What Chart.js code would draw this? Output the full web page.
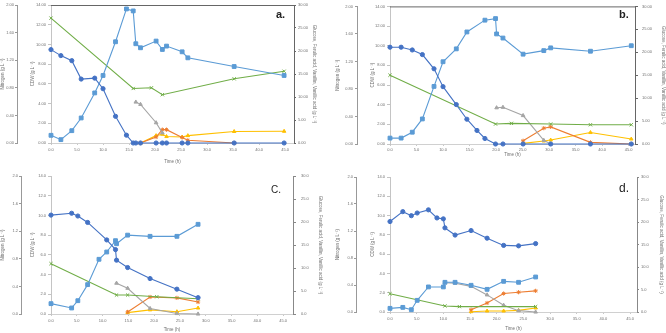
<!DOCTYPE html>
<html>
<head>
<meta charset="utf-8">
<script src="https://cdn.jsdelivr.net/npm/chart.js@4.4.1/dist/chart.umd.min.js"></script>
<style>
  body { margin: 0; background: #fff; }
  #wrap { position: relative; width: 666px; height: 333px; overflow: hidden; }
  canvas { position: absolute; }
  .tag { position: absolute; font-family: "Liberation Sans", Arial, sans-serif; color: #222; line-height: 11px; }
</style>
</head>
<body>
<div id="wrap">
  <canvas id="chartA" width="333" height="166" style="left:0;top:0"></canvas>
  <canvas id="chartB" width="333" height="166" style="left:333px;top:0"></canvas>
  <canvas id="chartC" width="333" height="167" style="left:0;top:166px"></canvas>
  <canvas id="chartD" width="333" height="167" style="left:333px;top:166px"></canvas>
  <div class="tag" style="left:276px;top:9px;font-size:11px;font-weight:bold">a.</div>
  <div class="tag" style="left:619px;top:9px;font-size:11px;font-weight:bold">b.</div>
  <div class="tag" style="left:271px;top:184px;font-size:10px">C.</div>
  <div class="tag" style="left:619px;top:183px;font-size:12px">d.</div>
</div>
<script>
// panel a
let aTimeCdw = [0, 1.9, 4.0, 5.8, 8.4, 10.0, 12.4, 14.5, 15.8, 16.3, 17.2, 20.2, 21.4, 22.2, 25.2, 26.3, 35.2, 44.8];
let aCdw = [0.78, 0.34, 1.25, 2.54, 5.08, 6.85, 10.27, 13.6, 13.4, 10.07, 9.66, 10.34, 9.49, 9.83, 9.25, 8.64, 7.76, 6.85];
let aTimeGlc = [0, 1.9, 4.0, 5.8, 8.4, 10.0, 12.4, 14.5, 15.8, 16.3, 17.2, 20.2, 21.4, 22.2, 25.2, 26.3, 35.2, 44.8];
let aGlc = [20.3, 19.0, 17.9, 13.9, 14.1, 11.8, 5.8, 1.7, 0, 0, 0, 0, 0, 0, 0, 0, 0, 0];
let aTimeN = [0, 15.8, 19.3, 21.4, 35.2, 44.8];
let aN = [1.81, 0.79, 0.80, 0.70, 0.93, 1.04];
let aTimeFer = [16.3, 17.2, 20.2, 21.4];
let aFer = [8.9, 8.4, 4.4, 2.2];
let aTimeVan = [17.2, 20.2, 21.4, 22.2, 25.2, 26.3, 35.2];
let aVan = [0, 1.3, 2.9, 2.9, 1.2, 0.6, 0];
let aTimeVa = [17.2, 20.2, 21.4, 22.2, 25.2, 26.3, 35.2, 44.8];
let aVa = [0, 1.6, 1.9, 1.4, 1.3, 1.6, 2.5, 2.55];

// panel b
let bTimeCdw = [0, 2.1, 4.2, 6.1, 8.3, 10.0, 12.5, 14.5, 17.9, 19.9, 20.1, 21.3, 25.1, 29.0, 30.3, 37.8, 45.5];
let bCdw = [0.60, 0.60, 1.2, 2.55, 5.86, 8.37, 9.68, 11.4, 12.6, 12.76, 11.2, 10.78, 9.14, 9.5, 9.78, 9.44, 10.0];
let bTimeGlc = [0, 2.1, 4.2, 6.1, 8.3, 10.0, 12.5, 14.5, 16.4, 17.9, 19.9, 21.3, 25.1, 30.3, 37.8, 45.5];
let bGlc = [21.1, 21.1, 20.5, 19.5, 16.4, 12.5, 8.6, 5.4, 2.95, 1.2, 0, 0, 0, 0, 0, 0];
let bTimeN = [0, 19.9, 22.9, 30.3, 37.8, 45.5];
let bN = [1.0, 0.29, 0.30, 0.29, 0.28, 0.28];
let bTimeFer = [20.1, 21.3, 25.1, 29.0, 30.3];
let bFer = [7.9, 8.0, 6.2, 0.8, 0];
let bTimeVan = [25.1, 29.0, 30.3, 37.8, 45.5];
let bVan = [0.7, 3.45, 3.73, 0.36, 0];
let bTimeVa = [25.1, 29.0, 30.3, 37.8, 45.5];
let bVa = [0.14, 0.65, 0.86, 2.5, 1.08];

// panel c
let cTimeCdw = [0, 4.0, 5.2, 7.1, 9.3, 10.8, 12.5, 12.7, 14.85, 19.2, 24.4, 28.5];
let cCdw = [1.05, 0.61, 1.35, 2.98, 5.55, 6.29, 7.44, 7.13, 8.0, 7.88, 7.88, 9.1];
let cTimeGlc = [0, 4.0, 5.2, 7.1, 10.8, 12.5, 12.7, 14.85, 19.2, 24.4, 28.5];
let cGlc = [21.5, 21.9, 21.3, 19.9, 16.1, 14.0, 11.7, 10.1, 7.7, 5.4, 3.55];
let cTimeN = [0, 12.7, 14.85, 20.5, 28.5];
let cN = [0.73, 0.275, 0.275, 0.25, 0.22];
let cTimeFer = [12.7, 14.85, 19.2, 24.4, 28.5];
let cFer = [6.7, 5.6, 1.2, 0.1, 0];
let cTimeVan = [14.85, 19.2, 24.4, 28.5];
let cVan = [0.45, 3.7, 3.5, 2.6];
let cTimeVa = [14.85, 19.2, 24.4, 28.5];
let cVa = [0.3, 0.9, 0.5, 1.3];

// panel d
let dTimeCdw = [0, 2.4, 4.0, 5.1, 7.2, 10.0, 10.3, 12.2, 15.2, 18.2, 21.3, 24.1, 27.3];
let dCdw = [0.38, 0.48, 0.24, 1.21, 2.6, 2.6, 3.08, 3.08, 2.77, 2.35, 3.18, 3.08, 3.63];
let dTimeGlc = [0, 2.4, 4.0, 5.1, 7.2, 8.8, 10.0, 10.3, 12.2, 15.2, 18.2, 21.3, 24.1, 27.3];
let dGlc = [20.1, 22.3, 21.4, 22.0, 22.7, 20.9, 20.7, 18.7, 17.1, 18.1, 16.4, 14.8, 14.7, 15.2];
let dTimeN = [0, 10.3, 13.0, 27.3];
let dN = [0.27, 0.09, 0.08, 0.08];
let dTimeFer = [10.3, 12.2, 15.2, 18.2, 21.3, 24.1, 27.3];
let dFer = [6.5, 6.4, 5.7, 3.8, 1.5, 0.3, 0];
let dTimeVan = [15.2, 18.2, 21.3, 24.1, 27.3];
let dVan = [0.5, 2.0, 4.1, 4.4, 4.7];
let dTimeVa = [15.2, 18.2, 21.3, 24.1, 27.3];
let dVa = [0.07, 0.22, 0.22, 0.37, 0.9];

const tickFont = { family: "Liberation Sans", size: 4 };
const titleFont = { family: "Liberation Sans", size: 4.5 };
const txt = "#6f6f6f";

function pts(t, v) {
  return t.map((x, i) => ({ x: x, y: v[i] }));
}

function series(t, v, axis, color, style, r) {
  return {
    data: pts(t, v), yAxisID: axis,
    borderColor: color, backgroundColor: color,
    borderWidth: 1.1, pointStyle: style, pointRadius: r,
    pointBorderWidth: 1, tension: 0, clip: false
  };
}

function yAxis(pos, max, step, dec, title, L, weight, lineColor) {
  return {
    type: "linear", position: pos, min: 0, max: max, weight: weight,
    ticks: { stepSize: step, callback: v => v.toFixed(dec), font: tickFont, color: txt, padding: L.pad },
    grid: { drawOnChartArea: false, drawTicks: true, tickLength: L.tick, color: lineColor },
    border: { display: true, color: lineColor },
    title: { display: true, text: title, font: titleFont, color: txt, padding: { top: L.tp, bottom: 0 } },
    afterFit: s => { s.width = L.w; }
  };
}

// dark line along the top of the plot area (panels a and b only)
const topFrame = {
  id: "topFrame",
  afterDraw(chart, args, opts) {
    if (!opts.show) return;
    const a = chart.chartArea, ctx = chart.ctx;
    ctx.save();
    ctx.strokeStyle = "#666";
    ctx.lineWidth = 1;
    ctx.beginPath();
    ctx.moveTo(a.left, a.top + 0.5);
    ctx.lineTo(a.right, a.top + 0.5);
    ctx.stroke();
    ctx.restore();
  }
};

function panel(id, s, L) {
  const datasets = [
    series(s.tGlc, s.glc, "yR", "#4472c4", "circle", 2.1),
    series(s.tCdw, s.cdw, "yC", "#5b9bd5", "rect", 2.7),
    series(s.tN, s.n, "yN", "#70ad47", "crossRot", 2.3),
    series(s.tFer, s.fer, "yR", "#a5a5a5", "triangle", 2.1),
    series(s.tVan, s.van, "yR", "#ed7d31", "star", 2.1),
    series(s.tVa, s.va, "yR", "#ffc000", "triangle", 2)
  ];
  new Chart(document.getElementById(id), {
    type: "line",
    data: { datasets: datasets },
    plugins: [topFrame],
    options: {
      responsive: false, animation: false, devicePixelRatio: 1,
      layout: { padding: { top: L.top, left: 0, right: 0, bottom: 0 } },
      plugins: { legend: { display: false }, tooltip: { enabled: false }, topFrame: { show: L.frame } },
      scales: {
        x: {
          type: "linear", position: "bottom", min: 0, max: L.xMax,
          ticks: { stepSize: 5, includeBounds: false, autoSkip: false, maxRotation: 0,
                   callback: v => v.toFixed(1), font: tickFont, color: txt, padding: L.x.pad },
          grid: { drawOnChartArea: false, drawTicks: true, tickLength: L.x.tick, color: "#c8c8c8" },
          border: { display: true, color: "#d0d0d0" },
          title: { display: true, text: "Time (h)", font: titleFont, color: txt, padding: { top: 0, bottom: L.x.tb } },
          afterFit: sc => { sc.height = L.x.h; }
        },
        yN: yAxis("left", 2, 0.4, L.dec, "Nitrogen (g L\u207B\u00B9)", L.n, 10, "#999"),
        yC: yAxis("left", 14, 2, L.dec, "CDW (g L\u207B\u00B9)", L.c, 0, "#c4c4c4"),
        yR: yAxis("right", 30, 5, L.dec, "Glucose, Ferulic acid, Vanillin, Vanillic acid (g L\u207B\u00B9)", L.r, 0, L.rColor)
      }
    }
  });
}

panel("chartA",
  { tCdw: aTimeCdw, cdw: aCdw, tGlc: aTimeGlc, glc: aGlc, tN: aTimeN, n: aN,
    tFer: aTimeFer, fer: aFer, tVan: aTimeVan, van: aVan, tVa: aTimeVa, va: aVa },
  { top: 5, xMax: 46.7, dec: 2, frame: true, rColor: "#666",
    n: { w: 17, tick: 2, pad: 1, tp: 0 },
    c: { w: 34, tick: 3, pad: 2, tp: 13.5 },
    r: { w: 39, tick: 2, pad: 2, tp: 16 },
    x: { h: 23, tick: 2, pad: 2, tb: 1.8 } });

panel("chartB",
  { tCdw: bTimeCdw, cdw: bCdw, tGlc: bTimeGlc, glc: bGlc, tN: bTimeN, n: bN,
    tFer: bTimeFer, fer: bFer, tVan: bTimeVan, van: bVan, tVa: bTimeVa, va: bVa },
  { top: 5, xMax: 46.2, dec: 2, frame: true, rColor: "#666",
    n: { w: 24, tick: 2, pad: 2, tp: 2.3 },
    c: { w: 33, tick: 3, pad: 2, tp: 13.3 },
    r: { w: 31, tick: 3, pad: 4, tp: 0 },
    x: { h: 22, tick: 2, pad: 1, tb: 8.3 } });

panel("chartC",
  { tCdw: cTimeCdw, cdw: cCdw, tGlc: cTimeGlc, glc: cGlc, tN: cTimeN, n: cN,
    tFer: cTimeFer, fer: cFer, tVan: cTimeVan, van: cVan, tVa: cTimeVa, va: cVa },
  { top: 10, xMax: 46.9, dec: 1, frame: false, rColor: "#888",
    n: { w: 21, tick: 2, pad: 1, tp: 0 },
    c: { w: 30, tick: 3, pad: 2, tp: 9.3 },
    r: { w: 40, tick: 3, pad: 5, tp: 10.3 },
    x: { h: 19, tick: 2, pad: 2, tb: 0.3 } });

panel("chartD",
  { tCdw: dTimeCdw, cdw: dCdw, tGlc: dTimeGlc, glc: dGlc, tN: dTimeN, n: dN,
    tFer: dTimeFer, fer: dFer, tVan: dTimeVan, van: dVan, tVa: dTimeVa, va: dVa },
  { top: 11, xMax: 46.3, dec: 1, frame: false, rColor: "#888",
    n: { w: 23, tick: 2, pad: 1, tp: 2.3 },
    c: { w: 34, tick: 3, pad: 2, tp: 14.3 },
    r: { w: 29, tick: 2, pad: 2, tp: 2.3 },
    x: { h: 21, tick: 2, pad: 2, tb: 1.3 } });
</script>
</body>
</html>
